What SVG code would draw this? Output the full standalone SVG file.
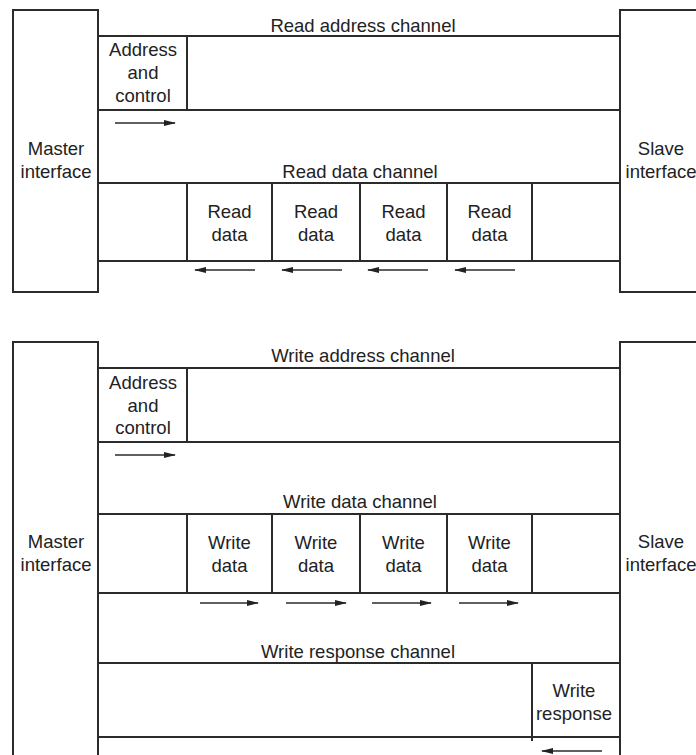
<svg xmlns="http://www.w3.org/2000/svg" width="696" height="755" viewBox="0 0 696 755">
<defs>
<style>
.box{fill:none;stroke:#2b2b2b;stroke-width:2}
.ln{stroke:#2b2b2b;stroke-width:2;fill:none}
.ar{stroke:#2b2b2b;stroke-width:1.3;fill:none}
text{font-family:"Liberation Sans",Arial,sans-serif;font-size:18.5px;fill:#222;text-anchor:middle}
</style>
<marker id="ah" viewBox="0 0 12 8" refX="11" refY="4" markerWidth="12" markerHeight="8" markerUnits="userSpaceOnUse" orient="auto">
<path d="M0,1 L12,4 L0,7 Z" fill="#222"/>
</marker>
</defs>
<rect width="696" height="755" fill="#fff"/>

<!-- Read transaction -->
<g id="master-read">
<rect class="box" x="13" y="10" width="85" height="282"/>
<text x="56" y="155">Master</text>
<text x="56" y="178">interface</text>
</g>
<g id="slave-read">
<rect class="box" x="620" y="10" width="120" height="282"/>
<text x="661" y="155">Slave</text>
<text x="661" y="178">interface</text>
</g>
<g id="read-address-channel">
<line class="ln" x1="98" y1="36" x2="620" y2="36"/>
<line class="ln" x1="98" y1="110" x2="620" y2="110"/>
<text x="363" y="32">Read address channel</text>
</g>
<g id="read-address-control">
<line class="ln" x1="187" y1="36" x2="187" y2="110"/>
<text x="143" y="56">Address</text>
<text x="143" y="79">and</text>
<text x="143" y="102">control</text>
</g>
<g id="read-data-channel">
<line class="ln" x1="98" y1="183" x2="620" y2="183"/>
<line class="ln" x1="98" y1="261" x2="620" y2="261"/>
<line class="ln" x1="532" y1="183" x2="532" y2="261"/>
<text x="360" y="178">Read data channel</text>
</g>
<g id="read-data-1">
<line class="ln" x1="187" y1="183" x2="187" y2="261"/>
<text x="229.5" y="218">Read</text>
<text x="229.5" y="241">data</text>
</g>
<g id="read-data-2">
<line class="ln" x1="272" y1="183" x2="272" y2="261"/>
<text x="316" y="218">Read</text>
<text x="316" y="241">data</text>
</g>
<g id="read-data-3">
<line class="ln" x1="360" y1="183" x2="360" y2="261"/>
<text x="403.5" y="218">Read</text>
<text x="403.5" y="241">data</text>
</g>
<g id="read-data-4">
<line class="ln" x1="447" y1="183" x2="447" y2="261"/>
<text x="489.5" y="218">Read</text>
<text x="489.5" y="241">data</text>
</g>

<!-- Write transaction -->
<g id="master-write">
<rect class="box" x="13" y="342" width="85" height="430"/>
<text x="56" y="548">Master</text>
<text x="56" y="571">interface</text>
</g>
<g id="slave-write">
<rect class="box" x="620" y="342" width="120" height="430"/>
<text x="661" y="548">Slave</text>
<text x="661" y="571">interface</text>
</g>
<g id="write-address-channel">
<line class="ln" x1="98" y1="368" x2="620" y2="368"/>
<line class="ln" x1="98" y1="442" x2="620" y2="442"/>
<text x="363" y="362">Write address channel</text>
</g>
<g id="write-address-control">
<line class="ln" x1="187" y1="368" x2="187" y2="442"/>
<text x="143" y="389">Address</text>
<text x="143" y="412">and</text>
<text x="143" y="434">control</text>
</g>
<g id="write-data-channel">
<line class="ln" x1="98" y1="514" x2="620" y2="514"/>
<line class="ln" x1="98" y1="593" x2="620" y2="593"/>
<line class="ln" x1="532" y1="514" x2="532" y2="593"/>
<text x="360" y="508">Write data channel</text>
</g>
<g id="write-data-1">
<line class="ln" x1="187" y1="514" x2="187" y2="593"/>
<text x="229.5" y="549">Write</text>
<text x="229.5" y="572">data</text>
</g>
<g id="write-data-2">
<line class="ln" x1="272" y1="514" x2="272" y2="593"/>
<text x="316" y="549">Write</text>
<text x="316" y="572">data</text>
</g>
<g id="write-data-3">
<line class="ln" x1="360" y1="514" x2="360" y2="593"/>
<text x="403.5" y="549">Write</text>
<text x="403.5" y="572">data</text>
</g>
<g id="write-data-4">
<line class="ln" x1="447" y1="514" x2="447" y2="593"/>
<text x="489.5" y="549">Write</text>
<text x="489.5" y="572">data</text>
</g>
<g id="write-response-channel">
<line class="ln" x1="98" y1="663" x2="620" y2="663"/>
<line class="ln" x1="98" y1="737" x2="620" y2="737"/>
<text x="358" y="658">Write response channel</text>
</g>
<g id="write-response">
<line class="ln" x1="532" y1="663" x2="532" y2="741"/>
<text x="574" y="697">Write</text>
<text x="574" y="720">response</text>
</g>

<g id="connectors">
<line class="ar" x1="115" y1="123" x2="175" y2="123" marker-end="url(#ah)"/>
<line class="ar" x1="255" y1="270" x2="195" y2="270" marker-end="url(#ah)"/>
<line class="ar" x1="342" y1="270" x2="282" y2="270" marker-end="url(#ah)"/>
<line class="ar" x1="428" y1="270" x2="368" y2="270" marker-end="url(#ah)"/>
<line class="ar" x1="515" y1="270" x2="455" y2="270" marker-end="url(#ah)"/>
<line class="ar" x1="115" y1="455" x2="175" y2="455" marker-end="url(#ah)"/>
<line class="ar" x1="200" y1="603" x2="258" y2="603" marker-end="url(#ah)"/>
<line class="ar" x1="286" y1="603" x2="346" y2="603" marker-end="url(#ah)"/>
<line class="ar" x1="372" y1="603" x2="431" y2="603" marker-end="url(#ah)"/>
<line class="ar" x1="459" y1="603" x2="518" y2="603" marker-end="url(#ah)"/>
<line class="ar" x1="602" y1="751" x2="542" y2="751" marker-end="url(#ah)"/>
</g>
</svg>
